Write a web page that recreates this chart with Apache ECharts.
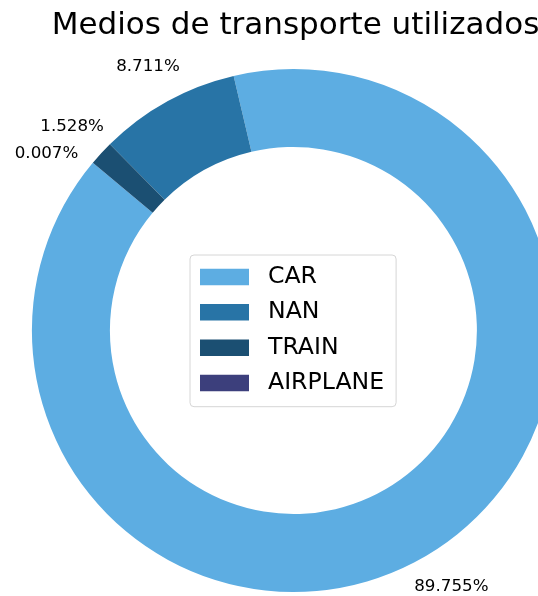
<!DOCTYPE html>
<html>
<head>
<meta charset="utf-8">
<script src="https://cdn.jsdelivr.net/npm/echarts@6/dist/echarts.min.js"></script>
<style>
  html, body { margin: 0; padding: 0; background: #ffffff; }
  #chart { width: 538px; height: 596px; }
</style>
</head>
<body>
<div id="chart"></div>
<script>
// Transport modes and their share of trips (percent)
const categories = ['CAR', 'NAN', 'TRAIN', 'AIRPLANE'];
const shares = [89.755, 8.711, 1.528, 0.007];
const sliceColors = ['#5dade2', '#2874a6', '#1b4f72', '#3c3f7c'];
const titleText = 'Medios de transporte utilizados';

const FONT = 'DejaVu Sans';
const CENTER = [293.4, 330.5];
const START = 140.1;

const pieData = categories.map((name, i) => ({
  name: name,
  value: shares[i],
  itemStyle: { color: sliceColors[i] }
}));

const chart = echarts.init(document.getElementById('chart'), null, { renderer: 'canvas' });

chart.setOption({
  animation: false,
  backgroundColor: '#ffffff',
  title: {
    text: titleText,
    left: 290.5,
    top: 5,
    textAlign: 'center',
    textStyle: { fontFamily: FONT, fontSize: 31, fontWeight: 'normal', color: '#000000' }
  },
  legend: {
    orient: 'vertical',
    left: 190,
    top: 255,
    data: categories,
    icon: 'rect',
    itemWidth: 49,
    itemHeight: 16.5,
    itemGap: 11.4,
    padding: [9.9, 12, 11.6, 10],
    backgroundColor: '#ffffff',
    borderColor: '#d6d6d6',
    borderWidth: 1,
    borderRadius: 4,
    selectedMode: false,
    textStyle: {
      fontFamily: FONT, fontSize: 23.6, lineHeight: 23.6, color: '#000000',
      padding: [0, 0, 0, 14]
    }
  },
  series: [
    {
      // the donut itself
      type: 'pie',
      center: CENTER,
      radius: [183.5, 261.5],
      startAngle: START,
      clockwise: false,
      avoidLabelOverlap: false,
      silent: true,
      label: { show: false },
      labelLine: { show: false },
      emphasis: { disabled: true },
      data: pieData
    },
    {
      // transparent ring that carries the percentage labels just outside the donut
      type: 'pie',
      center: CENTER,
      radius: [286, 310],
      startAngle: START,
      clockwise: false,
      avoidLabelOverlap: false,
      silent: true,
      itemStyle: { color: 'rgba(0,0,0,0)' },
      emphasis: { disabled: true },
      label: {
        show: true,
        position: 'inside',
        rotate: 0,
        fontFamily: FONT,
        fontSize: 16.7,
        color: '#000000',
        formatter: p => p.value.toFixed(3) + '%'
      },
      labelLine: { show: false },
      labelLayout: function (params) {
        // nudge the tiny last label away from its neighbour
        if (params.dataIndex === 3) {
          return { dx: -16, dy: 16 };
        }
        return {};
      },
      data: categories.map((name, i) => ({ name: name, value: shares[i] }))
    }
  ]
});
</script>
</body>
</html>
